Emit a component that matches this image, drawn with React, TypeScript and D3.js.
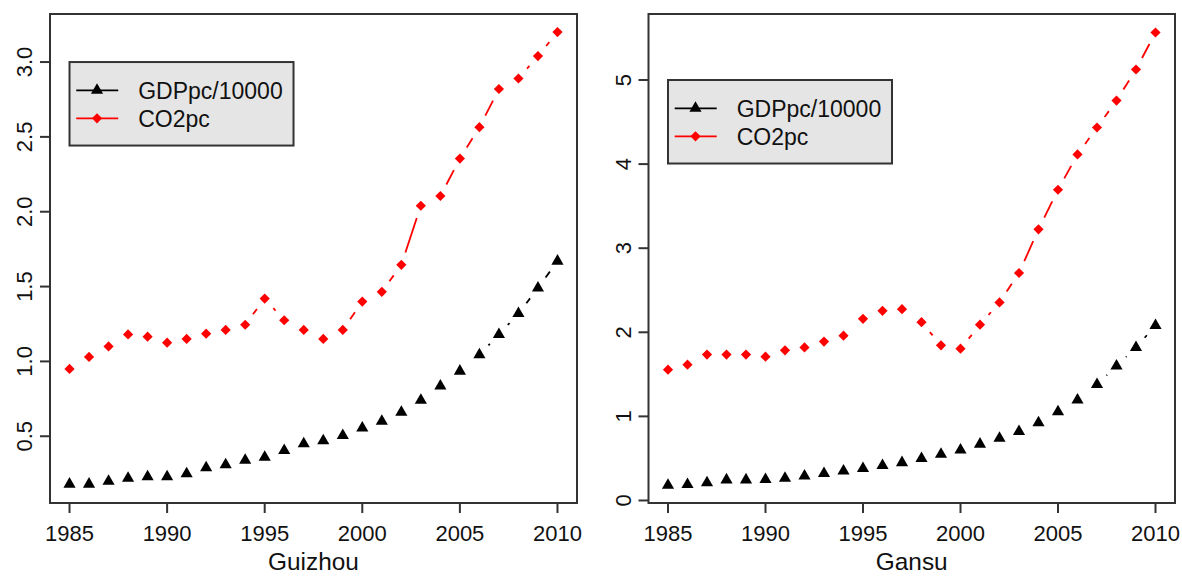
import React from "react";
import * as d3 from "d3";

const years = [1985, 1986, 1987, 1988, 1989, 1990, 1991, 1992, 1993, 1994, 1995, 1996, 1997, 1998, 1999, 2000, 2001, 2002, 2003, 2004, 2005, 2006, 2007, 2008, 2009, 2010];
const xTicks = [1985, 1990, 1995, 2000, 2005, 2010];

const guizhouGDP = [0.18, 0.18, 0.2, 0.22, 0.23, 0.23, 0.25, 0.29, 0.31, 0.34, 0.36, 0.405, 0.45, 0.47, 0.505, 0.555, 0.6, 0.66, 0.74, 0.835, 0.935, 1.045, 1.18, 1.32, 1.49, 1.67];
const guizhouCO2 = [0.95, 1.03, 1.1, 1.18, 1.165, 1.125, 1.15, 1.185, 1.21, 1.245, 1.42, 1.275, 1.21, 1.15, 1.21, 1.4, 1.465, 1.645, 2.04, 2.105, 2.355, 2.565, 2.82, 2.89, 3.04, 3.2];
const gansuGDP = [0.18, 0.19, 0.21, 0.245, 0.245, 0.25, 0.265, 0.29, 0.32, 0.35, 0.38, 0.415, 0.45, 0.5, 0.55, 0.6, 0.67, 0.74, 0.82, 0.925, 1.055, 1.195, 1.38, 1.6, 1.82, 2.08];
const gansuCO2 = [1.555, 1.615, 1.735, 1.735, 1.735, 1.71, 1.785, 1.82, 1.89, 1.96, 2.16, 2.255, 2.275, 2.12, 1.845, 1.805, 2.09, 2.355, 2.705, 3.225, 3.695, 4.115, 4.435, 4.755, 5.125, 5.565];

const guizhouYTicks = [0.5, 1.0, 1.5, 2.0, 2.5, 3.0];
const gansuYTicks = [0, 1, 2, 3, 4, 5];
const legendLabels = ["GDPpc/10000", "CO2pc"];
const seriesColors = ["#000000", "#ff0000"];

const FONT = "'Liberation Sans', Arial, Helvetica, sans-serif";
const triPath = d3.symbol(d3.symbolTriangle, 64)() as string;
const diaPath = d3.symbol(d3.symbolSquare, 52)() as string;

function Marker({ kind, x, y, color }: { kind: number; x: number; y: number; color: string }) {
  if (kind === 0) return <path d={triPath} transform={`translate(${x},${y})`} fill={color} />;
  return <path d={diaPath} transform={`translate(${x},${y}) rotate(45)`} fill={color} />;
}

function gappedSegments(pts: [number, number][], gap: number) {
  const segs: [number, number, number, number][] = [];
  for (let i = 0; i < pts.length - 1; i++) {
    const [x1, y1] = pts[i];
    const [x2, y2] = pts[i + 1];
    const dx = x2 - x1, dy = y2 - y1;
    const d = Math.hypot(dx, dy);
    if (d > 2 * gap) {
      const ux = dx / d, uy = dy / d;
      segs.push([x1 + ux * gap, y1 + uy * gap, x2 - ux * gap, y2 - uy * gap]);
    }
  }
  return segs;
}

function Panel({ left, right, yDomain, yTicks, yFmt, gdp, co2, title, legendY }: any) {
  const top = 14, bottom = 503;
  const x = d3.scaleLinear().domain([1984, 2011]).range([left, right]);
  const y = d3.scaleLinear().domain(yDomain).range([bottom, top]);
  const series = [gdp, co2];
  const lx = x(1985), ly = y(legendY);
  return (
    <g>
      {series.map((vals: number[], si: number) => {
        const pts = years.map((yr, i) => [x(yr), y(vals[i])] as [number, number]);
        return (
          <g key={si}>
            {gappedSegments(pts, 13).map((s, k) => (
              <line key={k} x1={s[0]} y1={s[1]} x2={s[2]} y2={s[3]} stroke={seriesColors[si]} strokeWidth={1.8} />
            ))}
            {pts.map((p, k) => (
              <Marker key={k} kind={si} x={p[0]} y={p[1]} color={seriesColors[si]} />
            ))}
          </g>
        );
      })}
      <rect x={left} y={top} width={right - left} height={bottom - top} fill="none" stroke="#333" strokeWidth={2} />
      {xTicks.map((t) => (
        <g key={t}>
          <line x1={x(t)} x2={x(t)} y1={bottom} y2={bottom + 10} stroke="#333" strokeWidth={2} />
          <text x={x(t)} y={540.5} textAnchor="middle" fontSize={22} fontFamily={FONT} fill="#111">{t}</text>
        </g>
      ))}
      {yTicks.map((t: number) => (
        <g key={t}>
          <line x1={left - 10} x2={left} y1={y(t)} y2={y(t)} stroke="#333" strokeWidth={2} />
          <text transform={`translate(${left - 18},${y(t)}) rotate(-90)`} textAnchor="middle" fontSize={22} fontFamily={FONT} fill="#111">{yFmt(t)}</text>
        </g>
      ))}
      <text x={(left + right) / 2} y={570} textAnchor="middle" fontSize={24.4} fontFamily={FONT} fill="#111">{title}</text>
      <g>
        <rect x={lx} y={ly} width={224} height={83.5} fill="#e5e5e5" stroke="#333" strokeWidth={2} />
        {legendLabels.map((lab, i) => {
          const cy = ly + 28.3 + i * 28;
          return (
            <g key={lab}>
              <line x1={lx + 6.7} x2={lx + 48.7} y1={cy} y2={cy} stroke={seriesColors[i]} strokeWidth={1.8} />
              <Marker kind={i} x={lx + 27.5} y={cy} color={seriesColors[i]} />
              <text x={lx + 68.7} y={cy + 8.2} fontSize={23} fontFamily={FONT} fill="#111">{lab}</text>
            </g>
          );
        })}
      </g>
    </g>
  );
}

export default function App() {
  return (
    <svg width={1182} height={576} style={{ position: "absolute", left: 0, top: 0, background: "#fff" }}>
      <rect x={0} y={0} width={1182} height={576} fill="#fff" />
      <Panel left={50} right={577} yDomain={[0.054, 3.321]} yTicks={guizhouYTicks} yFmt={d3.format(".1f")} gdp={guizhouGDP} co2={guizhouCO2} title="Guizhou" legendY={3.0} />
      <Panel left={648.5} right={1175} yDomain={[-0.03, 5.785]} yTicks={gansuYTicks} yFmt={d3.format("d")} gdp={gansuGDP} co2={gansuCO2} title="Gansu" legendY={5} />
    </svg>
  );
}
